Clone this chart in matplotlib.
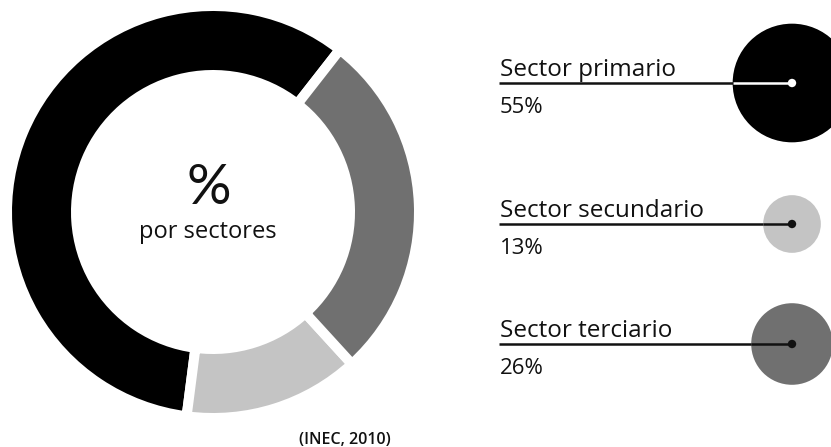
import numpy as np
import matplotlib.pyplot as plt
from matplotlib.patches import Circle

plt.rcParams['font.family'] = ['Open Sans', 'DejaVu Sans']

sectores = ['Sector primario', 'Sector secundario', 'Sector terciario']
valores = [55, 13, 26]
colores = ['#000000', '#c4c4c4', '#707070']
fuente = '(INEC, 2010)'

W, H = 831, 447

fig = plt.figure(figsize=(W / 100, H / 100), dpi=100)
ax = fig.add_axes([0, 0, 1, 1])

# anillo principal (coordenadas en pixeles, y hacia arriba)
cx, cy = 213, H - 212
ax.pie(valores, colors=colores, startangle=52, counterclock=True,
       center=(cx, cy), radius=206,
       wedgeprops=dict(width=69, edgecolor='white', linewidth=7.2))

ax.text(cx - 4, H - 204, '%', ha='center', va='baseline', fontsize=40,
        family=['Lato', 'DejaVu Sans'], color='#111111')
ax.text(cx - 5, H - 238, 'por sectores', ha='center', va='baseline', fontsize=17, color='#111111')
ax.text(345, H - 444, fuente, ha='center', va='baseline', fontsize=11.5,
        fontweight='semibold', color='#111111')

# leyenda con circulos proporcionales al area
filas_y = [83, 224, 344]
k = 8.0
for nombre, v, col, yy in zip(sectores, valores, colores, filas_y):
    y = H - yy
    r = k * np.sqrt(v)
    ax.add_patch(Circle((792, y), r, facecolor=col, edgecolor='none', zorder=2))
    ax.plot([499, 792 - r], [y, y], color='#111111', lw=1.8, zorder=3, solid_capstyle='butt')
    interior = 'white' if col == '#000000' else '#111111'
    ax.plot([792 - r, 792], [y, y], color=interior, lw=1.8, zorder=3, solid_capstyle='butt')
    ax.add_patch(Circle((792, y), 4.2, facecolor=interior, edgecolor='none', zorder=4))
    ax.text(500, y + 7, nombre, ha='left', va='baseline', fontsize=17.5, color='#111111')
    ax.text(500, y - 30, f'{v}%', ha='left', va='baseline', fontsize=16, color='#111111')

ax.set_xlim(0, W)
ax.set_ylim(0, H)
ax.set_aspect('equal')
ax.axis('off')

fig.savefig('out.png', dpi=100, facecolor='white')
